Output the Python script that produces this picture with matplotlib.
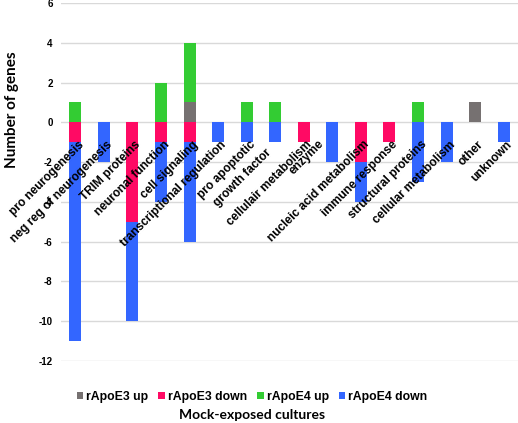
import matplotlib
matplotlib.use("Agg")
import matplotlib.pyplot as plt
import numpy as np

categories = ["pro neurogenesis", "neg reg of neurogenesis", "TRIM proteins", "neuronal function",
              "cell signaling", "transcriptional regulation", "pro apoptotic", "growth factor",
              "cellulair metabolism", "enzyme", "nucleic acid metabolism", "immune response",
              "structural proteins", "cellular metabolism", "other", "unknown"]
e3_up   = [0, 0, 0, 0, 1, 0, 0, 0, 0, 0, 0, 0, 0, 0, 1, 0]
e4_up   = [1, 0, 0, 2, 3, 0, 1, 1, 0, 0, 0, 0, 1, 0, 0, 0]
e3_down = [-1, 0, -5, -1, -1, 0, 0, 0, -1, 0, -2, -1, 0, 0, 0, 0]
e4_down = [-10, -2, -5, -3, -5, -1, -1, -1, 0, -2, -2, 0, -3, -2, 0, -1]
yticks = [6, 4, 2, 0, -2, -4, -6, -8, -10, -12]

c_e3up, c_e3dn, c_e4up, c_e4dn = "#767171", "#ff0a64", "#33cc33", "#3366ff"

fig = plt.figure(figsize=(5.18, 4.23), dpi=100)
ax = fig.add_axes([61/518, 1-361/423, 457/518, 358/423])
x = np.arange(len(categories))
w = 0.42
e3_up_a = np.array(e3_up); e3_down_a = np.array(e3_down)
ax.bar(x, e3_up, w, color=c_e3up, label="rApoE3 up", zorder=3)
ax.bar(x, e3_down, w, color=c_e3dn, label="rApoE3 down", zorder=3)
ax.bar(x, e4_up, w, bottom=e3_up_a, color=c_e4up, label="rApoE4 up", zorder=3)
ax.bar(x, e4_down, w, bottom=e3_down_a, color=c_e4dn, label="rApoE4 down", zorder=3)

ax.set_xlim(-0.5, len(categories) - 0.5)
ax.set_ylim(-12, 6)
ax.set_yticks(yticks)
ax.set_yticklabels([str(t) for t in yticks], fontsize=7, family="Liberation Sans", fontweight="bold")
ax.set_xticks([])
ax.tick_params(axis="y", length=0, pad=6)
ax.grid(axis="y", color="#d9d9d9", linewidth=1, zorder=0)
for s in ax.spines.values():
    s.set_visible(False)

# layout nudges (label placement only)
nudge = {"growth factor": (-0.42, -0.4), "enzyme": (-0.6, 0.05)}
for i, lab in enumerate(categories):
    dx, dy = nudge.get(lab, (0.0, 0.0))
    ax.text(i + 0.08 + dx, -0.82 + dy, lab, rotation=45, ha="right", va="top", rotation_mode="anchor",
            fontsize=8.6, fontweight="bold", family="Liberation Sans", zorder=5)

fig.text(12/518, 1-110/423, "Number of genes", rotation=90, ha="center", va="center",
         fontsize=11, family="Lato", fontweight="bold")
fig.legend(loc="center", bbox_to_anchor=(252/518, 1-397/423), ncol=4, frameon=False,
           prop={"family": "Liberation Sans", "weight": "bold", "size": 8.8},
           handlelength=0.55, handleheight=0.55, handletextpad=0.25, columnspacing=0.8)
fig.text(252/518, 1-415/423, "Mock-exposed cultures", ha="center", va="center",
         fontsize=10, family="Lato", fontweight="bold")
fig.savefig("out.png", dpi=100)
